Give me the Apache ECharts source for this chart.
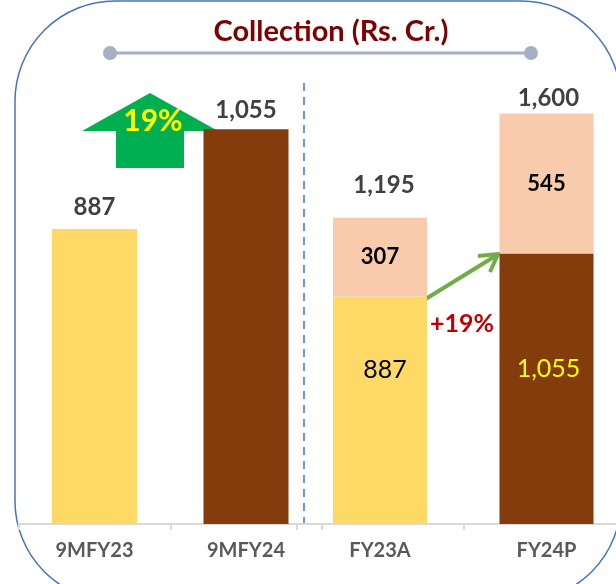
<!DOCTYPE html>
<html>
<head>
<meta charset="utf-8">
<title>Collection (Rs. Cr.)</title>
<script src="https://cdn.jsdelivr.net/npm/echarts@6/dist/echarts.min.js"></script>
<style>
  html, body { margin: 0; padding: 0; background: #fff; overflow: hidden; }
  /* a bit wider than the window: the right panel runs off the edge in the original */
  #collection-chart { width: 640px; height: 584px; }
</style>
</head>
<body>
<div id="collection-chart"></div>
<script>
// data
const leftCategories = ['9MFY23', '9MFY24']
const leftValues = [887, 1055]
const rightCategories = ['FY23A', 'FY24P']
const rightBase = [887, 1055]
const rightAdded = [307, 545]
const rightTotals = [1195, 1600]
const growthLabel = '19%'
const growthLabelRight = '+19%'

const YELLOW = '#FFD966'
const BROWN = '#843C0C'
const PEACH = '#F8CBAD'
const FONT = 'Lato, "Open Sans", sans-serif'

const chart = echarts.init(document.getElementById('collection-chart'), null, { renderer: 'canvas' })

const fmt = v => v.toLocaleString('en-IN')

const axisCommon = {
  type: 'category',
  axisLine: { lineStyle: { color: '#D9D9D9', width: 2 } },
  axisTick: { show: true, length: 6, lineStyle: { color: '#D9D9D9', width: 2 } },
  axisLabel: { color: '#595959', fontSize: 20, fontWeight: 'bold', fontFamily: FONT, margin: 17 }
}

chart.setOption({
  animation: false,
  grid: [
    { left: 18.75, width: 303, top: 100, height: 424 },
    { left: 296.75, width: 333, top: 100, height: 424 }
  ],
  xAxis: [
    Object.assign({ gridIndex: 0, data: leftCategories }, axisCommon),
    Object.assign({ gridIndex: 1, data: rightCategories }, axisCommon)
  ],
  yAxis: [
    // left panel is not drawn from zero in the original
    { gridIndex: 0, type: 'value', min: 391, max: 1104, show: false, splitLine: { show: false } },
    { gridIndex: 1, type: 'value', min: 0, max: 1653, show: false, splitLine: { show: false } }
  ],
  series: [
    {
      name: 'left',
      type: 'bar',
      xAxisIndex: 0,
      yAxisIndex: 0,
      barWidth: 85,
      data: leftValues.map((v, i) => ({
        value: v,
        itemStyle: { color: i === 0 ? YELLOW : BROWN },
        label: { distance: i === 0 ? 10 : 7 }
      })),
      label: {
        show: true,
        position: 'top',
        formatter: p => fmt(p.value),
        color: '#404040',
        fontSize: 24,
        fontWeight: 'bold',
        fontFamily: FONT
      }
    },
    {
      name: 'base',
      type: 'bar',
      stack: 'fy',
      xAxisIndex: 1,
      yAxisIndex: 1,
      barWidth: 94,
      data: rightBase.map((v, i) => ({
        value: v,
        itemStyle: { color: i === 0 ? YELLOW : BROWN },
        label: {
          color: i === 0 ? '#000' : '#FFFF00',
          offset: [i === 0 ? 5 : 2, i === 0 ? -40 : -20]
        }
      })),
      label: {
        show: true,
        position: 'inside',
        formatter: p => fmt(p.value),
        fontSize: 25,
        fontFamily: FONT
      }
    },
    {
      name: 'added',
      type: 'bar',
      stack: 'fy',
      xAxisIndex: 1,
      yAxisIndex: 1,
      barWidth: 94,
      itemStyle: { color: PEACH },
      data: rightAdded,
      label: {
        show: true,
        position: 'inside',
        formatter: p => fmt(p.value),
        color: '#000',
        fontSize: 22,
        fontWeight: 'bold',
        fontFamily: FONT
      }
    },
    {
      // zero-height bar on top of the stack, only carries the total label
      name: 'total',
      type: 'bar',
      stack: 'fy',
      xAxisIndex: 1,
      yAxisIndex: 1,
      barWidth: 94,
      itemStyle: { color: 'transparent' },
      data: rightTotals.map((t, i) => ({ value: 0, label: { distance: i === 0 ? 20 : 3, offset: [i === 0 ? 4 : 2, 0] } })),
      label: {
        show: true,
        position: 'top',
        formatter: p => fmt(rightTotals[p.dataIndex]),
        color: '#404040',
        fontSize: 24,
        fontWeight: 'bold',
        fontFamily: FONT
      }
    }
  ],
  graphic: [
    // rounded frame
    {
      type: 'rect',
      shape: { x: 15, y: 1, width: 606, height: 600, r: 100 },
      style: { fill: 'none', stroke: '#4472C4', lineWidth: 1.5 },
      silent: true
    },
    // title + decoration line
    {
      type: 'text',
      x: 331, y: 32,
      style: {
        text: 'Collection (Rs. Cr.)',
        fill: '#7F0000',
        font: 'bold 29px ' + FONT,
        textAlign: 'center',
        textVerticalAlign: 'middle'
      }
    },
    { type: 'line', shape: { x1: 110, y1: 53, x2: 531, y2: 53 }, style: { stroke: '#A5B0C6', lineWidth: 3 } },
    { type: 'circle', shape: { cx: 110, cy: 53, r: 7 }, style: { fill: '#A5B0C6' } },
    { type: 'circle', shape: { cx: 531, cy: 53, r: 7 }, style: { fill: '#A5B0C6' } },
    // dashed separator
    { type: 'line', shape: { x1: 304, y1: 83, x2: 304, y2: 528 }, style: { stroke: '#4472C4', lineWidth: 1.5, lineDash: [8, 6] } },
    // big green up arrow
    {
      type: 'polygon',
      shape: { points: [[150, 93], [218, 131], [184, 131], [184, 168], [116, 168], [116, 131], [82, 131]] },
      style: { fill: '#00B050' }
    },
    {
      type: 'text',
      x: 153, y: 121,
      style: { text: growthLabel, fill: '#FFFF00', font: 'bold 30px ' + FONT, textAlign: 'center', textVerticalAlign: 'middle' }
    },
    // thin green arrow between FY bars
    { type: 'line', shape: { x1: 424, y1: 300, x2: 497, y2: 255 }, style: { stroke: '#70AD47', lineWidth: 4 } },
    { type: 'polyline', shape: { points: [[478, 256], [498, 254], [490, 272]] }, style: { stroke: '#70AD47', lineWidth: 4, fill: 'none' } },
    {
      type: 'text',
      x: 462, y: 324,
      style: { text: growthLabelRight, fill: '#C00000', font: 'bold 25px ' + FONT, textAlign: 'center', textVerticalAlign: 'middle' }
    }
  ]
})
</script>
</body>
</html>
